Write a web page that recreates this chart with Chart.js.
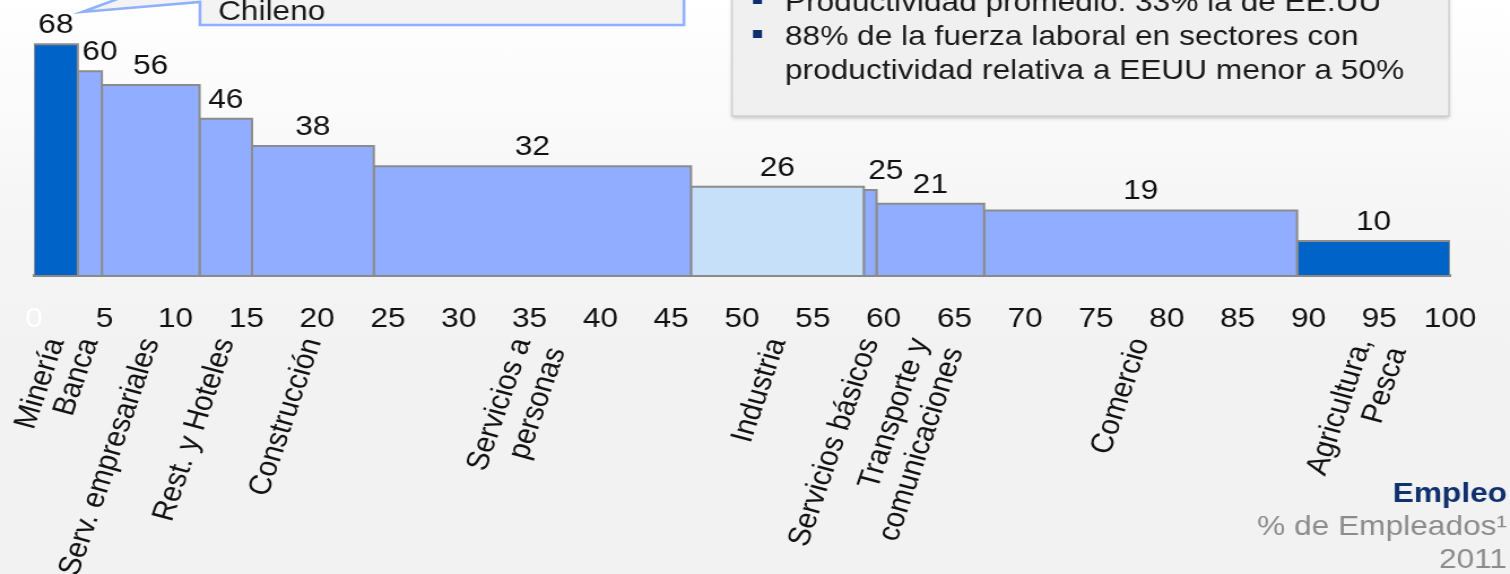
<!DOCTYPE html>
<html>
<head>
<meta charset="utf-8">
<script src="https://cdn.jsdelivr.net/npm/chart.js@4.4.1/dist/chart.umd.min.js"></script>
<style>
  html, body { margin: 0; padding: 0; }
  body {
    width: 1510px; height: 574px; overflow: hidden;
    background: linear-gradient(to bottom, #ffffff 0%, #f6f6f6 35%, #f2f2f2 60%, #f2f2f2 100%);
  }
  #wrap { width: 1336px; height: 574px; transform: scaleX(1.1302); transform-origin: 0 0; }
</style>
</head>
<body>
<div id="wrap"><canvas id="chart" width="1336" height="574"></canvas></div>
<script>
// sectors (x = share of employment, y = productivity relative to USA)
const sectors = [
  ['Minería'], ['Banca'], ['Serv. empresariales'], ['Rest. y Hoteles'], ['Construcción'],
  ['Servicios a', 'personas'], ['Industria'], ['Servicios básicos'],
  ['Transporte y', 'comunicaciones'], ['Comercio'], ['Agricultura,', 'Pesca']
];
const employment_share = [3.1, 1.7, 6.9, 3.7, 8.6, 22.4, 12.2, 0.9, 7.6, 22.1, 10.8];
const productivity = [68, 60, 56, 46, 38, 32, 26, 25, 21, 19, 10];

const dark_blue = '#0063c8';
const mid_blue = '#91adff';
const light_blue = '#c6e0fa';
const sector_color = [dark_blue, mid_blue, mid_blue, mid_blue, mid_blue, mid_blue, light_blue, mid_blue, mid_blue, mid_blue, dark_blue];

const box_bullets = [
  ['Productividad promedio: 33% la de EE.UU'],
  ['88% de la fuerza laboral en sectores con', 'productividad relativa a EEUU menor a 50%']
];
const callout_text = 'Chileno';
const unit_title = 'Empleo';
const unit_lines = ['% de Empleados¹', '2011'];

const SX = 1510 / 1336;       // the slide is stretched horizontally
const fx = function (px) { return px / SX; };
const font_family = '"Liberation Sans", Arial, sans-serif';

Chart.defaults.font.family = font_family;

// build one rectangle outline per sector
var datasets = [];
var start = 0;
for (var i = 0; i < sectors.length; i++) {
  var end = start + employment_share[i];
  datasets.push({
    label: sectors[i].join(' '),
    data: [{ x: start, y: 0 }, { x: start, y: productivity[i] }, { x: end, y: productivity[i] }, { x: end, y: 0 }],
    backgroundColor: sector_color[i],
    borderColor: '#8c8c8c',
    borderWidth: 2,
    fill: 'origin',
    pointRadius: 0,
    tension: 0
  });
  start = end;
}

const sectorLabels = {
  id: 'sectorLabels',
  afterDatasetsDraw(chart) {
    const ctx = chart.ctx;
    const xs = chart.scales.x, ys = chart.scales.y;
    ctx.save();
    ctx.font = '28px ' + font_family;
    ctx.fillStyle = '#111111';
    var s = 0;
    for (var i = 0; i < sectors.length; i++) {
      const x0 = xs.getPixelForValue(s);
      const x1 = xs.getPixelForValue(s + employment_share[i]);
      s += employment_share[i];
      const top = ys.getPixelForValue(productivity[i]);
      ctx.textBaseline = 'alphabetic';
      if (x1 - x0 < 35) {
        ctx.textAlign = 'left';
        ctx.fillText(String(productivity[i]), x0 + 4, top - 11);
      } else {
        ctx.textAlign = 'center';
        ctx.fillText(String(productivity[i]), (x0 + x1) / 2, top - 11);
      }
      // rotated category name
      const lines = sectors[i];
      ctx.save();
      ctx.translate((x0 + x1) / 2 - (lines.length - 1) * 9, 339);
      ctx.rotate(-73 * Math.PI / 180);
      ctx.textAlign = 'right';
      ctx.textBaseline = 'middle';
      lines.forEach(function (l, k) { ctx.fillText(l, 0, k * 32); });
      ctx.restore();
    }
    ctx.restore();
  },
  afterDraw(chart) {
    const ctx = chart.ctx;
    ctx.save();
    // callout top left
    ctx.beginPath();
    ctx.moveTo(fx(123), -3);
    ctx.lineTo(fx(82), 12);
    ctx.lineTo(fx(200), 2);
    ctx.lineTo(fx(200), 25);
    ctx.lineTo(fx(684), 25);
    ctx.lineTo(fx(684), -3);
    ctx.closePath();
    ctx.fillStyle = '#f3f3f3';
    ctx.fill();
    ctx.strokeStyle = '#8fb0ff';
    ctx.lineWidth = 2.5;
    ctx.stroke();
    ctx.font = '28px ' + font_family;
    ctx.fillStyle = '#1a1a1a';
    ctx.textAlign = 'left';
    ctx.textBaseline = 'alphabetic';
    ctx.fillText(callout_text, fx(218), 20);

    // summary box top right
    ctx.save();
    ctx.shadowColor = 'rgba(0,0,0,0.25)';
    ctx.shadowBlur = 4;
    ctx.shadowOffsetY = 2;
    ctx.fillStyle = '#f0f0f0';
    ctx.fillRect(fx(732), -5, fx(1449) - fx(732), 121);
    ctx.restore();
    ctx.strokeStyle = '#d0d0d0';
    ctx.lineWidth = 1.5;
    ctx.strokeRect(fx(732), -5, fx(1449) - fx(732), 121);
    var base = 11;
    box_bullets.forEach(function (b) {
      ctx.fillStyle = '#0d2f6e';
      ctx.fillRect(fx(753), base - 15, fx(762) - fx(753), 8);
      ctx.fillStyle = '#1a1a1a';
      b.forEach(function (l) {
        ctx.fillText(l, fx(785), base);
        base += 34;
      });
    });

    // unit note bottom right
    ctx.textAlign = 'right';
    ctx.font = 'bold 28px ' + font_family;
    ctx.fillStyle = '#10306e';
    ctx.fillText(unit_title, fx(1507), 502);
    ctx.font = '28px ' + font_family;
    ctx.fillStyle = '#8c8c8c';
    ctx.fillText(unit_lines[0], fx(1507), 535);
    ctx.fillText(unit_lines[1], fx(1507), 568);
    ctx.restore();
  }
};

new Chart(document.getElementById('chart'), {
  type: 'line',
  data: { datasets: datasets },
  options: {
    responsive: false,
    animation: false,
    layout: { autoPadding: false, padding: { left: 30, right: 53, top: 0, bottom: 0 } },
    plugins: {
      legend: { display: false },
      tooltip: { enabled: false }
    },
    scales: {
      x: {
        type: 'linear',
        min: 0,
        max: 100,
        z: 1,
        // tick marks are hidden, their length only pushes the labels down
        grid: { display: false, drawTicks: true, tickLength: 27 },
        border: { display: true, color: '#8a8a8a', width: 3 },
        ticks: {
          stepSize: 5,
          padding: 0,
          maxRotation: 0,
          autoSkip: false,
          font: { size: 28 },
          color: function (c) { return c.tick && c.tick.value === 0 ? '#ffffff' : '#111111'; }
        },
        afterFit: function (scale) { scale.height = 299; }
      },
      y: { display: false, min: 0, max: 81 }
    }
  },
  plugins: [sectorLabels]
});
</script>
</body>
</html>
